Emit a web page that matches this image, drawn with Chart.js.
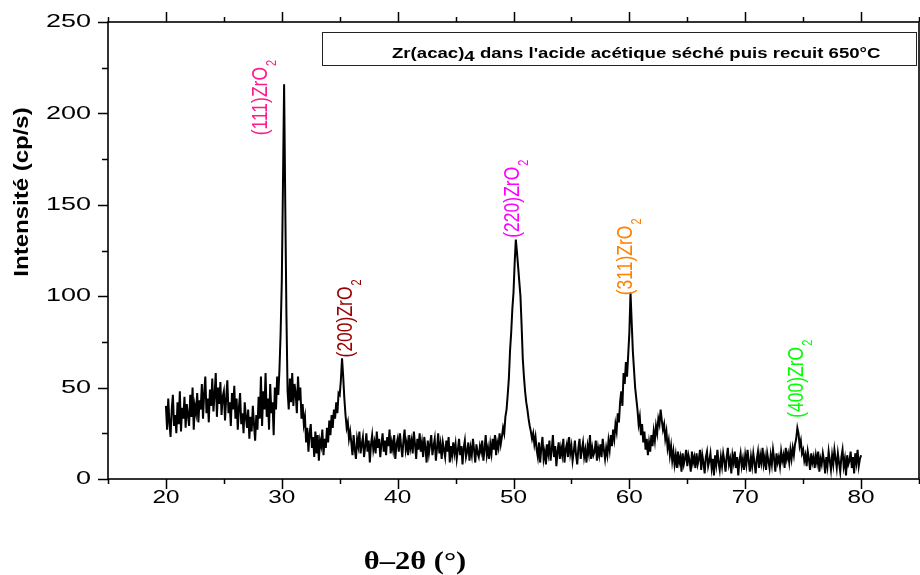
<!DOCTYPE html>
<html>
<head>
<meta charset="utf-8">
<script src="https://cdn.jsdelivr.net/npm/chart.js@4.4.1/dist/chart.umd.min.js"></script>
<style>
  html, body { margin: 0; padding: 0; background: #fff; }
</style>
</head>
<body>
<canvas id="xrd" width="920" height="575"></canvas>
<script>
// Scan settings (2θ, degrees)
const scanStart = 20.0;
const scanStep = 0.1;

// Measured intensity (cp/s), one value per step from 20.0° to 80.0°
const intensity = [
  40, 27, 44, 31, 23, 38, 46, 29, 35, 25,   // 20
  42, 30, 48, 26, 39, 33, 45, 28, 41, 35,   // 21
  29, 46, 34, 50, 27, 40, 36, 47, 31, 43,   // 22
  38, 52, 33, 47, 56, 36, 44, 31, 49, 40,   // 23
  55, 37, 46, 58, 34, 50, 41, 53, 35, 45,   // 24
  48, 32, 44, 54, 36, 42, 29, 47, 38, 51,   // 25
  33, 44, 27, 39, 47, 30, 36, 25, 42, 34,   // 26
  28, 38, 22, 34, 26, 40, 30, 21, 35, 27,   // 27
  45, 33, 56, 29, 48, 38, 58, 34, 44, 27,   // 28
  52, 36, 42, 24, 50, 38, 56, 46, 60, 80,   // 29
  108, 160, 216, 150, 90, 48, 38, 55, 42, 58, // 30
  40, 52, 47, 36, 56, 43, 50, 33, 41, 30,   // 31
  34, 20, 28, 15, 25, 30, 17, 23, 12, 26,   // 32
  14, 24, 10, 21, 18, 27, 13, 22, 17, 28,   // 33
  20, 32, 24, 35, 28, 38, 33, 42, 36, 47,   // 34
  46, 54, 66, 56, 44, 35, 28, 31, 22, 26,   // 35
  20, 13, 24, 16, 11, 22, 18, 26, 14, 19,   // 36
  23, 12, 18, 25, 15, 21, 9, 19, 24, 16,    // 37
  20, 14, 26, 17, 22, 12, 19, 25, 15, 21,   // 38
  13, 23, 18, 27, 14, 20, 16, 24, 11, 19,   // 39
  22, 15, 25, 18, 12, 21, 27, 16, 20, 13,   // 40
  24, 17, 21, 14, 26, 19, 11, 22, 16, 25,   // 41
  15, 20, 12, 23, 17, 9, 21, 14, 19, 24,    // 42
  13, 18, 22, 10, 17, 25, 14, 19, 11, 20,   // 43
  16, 12, 21, 15, 23, 9, 18, 13, 20, 14,    // 44
  19, 11, 16, 22, 13, 18, 8, 17, 21, 12,    // 45
  15, 20, 10, 17, 13, 22, 16, 9, 19, 14,    // 46
  12, 18, 15, 21, 10, 16, 24, 13, 17, 11,   // 47
  19, 14, 22, 16, 24, 13, 20, 17, 25, 19,   // 48
  23, 28, 25, 34, 38, 46, 55, 70, 80, 93,   // 49
  102, 118, 131, 124, 116, 108, 100, 84, 66, 56, // 50
  48, 42, 38, 33, 29, 26, 22, 25, 19, 23,   // 51
  16, 12, 20, 9, 17, 23, 11, 15, 8, 19,     // 52
  14, 21, 10, 16, 24, 12, 18, 7, 15, 20,    // 53
  11, 17, 13, 22, 9, 16, 19, 12, 23, 14,    // 54
  18, 10, 15, 21, 13, 8, 17, 22, 11, 16,    // 55
  20, 12, 16, 9, 18, 14, 24, 11, 17, 13,    // 56
  15, 21, 10, 17, 13, 19, 12, 22, 16, 11,   // 57
  17, 13, 21, 16, 24, 18, 27, 22, 30, 26,   // 58
  36, 31, 42, 48, 40, 58, 52, 64, 56, 68,   // 59
  80, 102, 86, 70, 60, 50, 44, 38, 30, 34,  // 60
  24, 30, 20, 26, 16, 22, 13, 20, 15, 24,   // 61
  18, 26, 21, 29, 25, 33, 30, 38, 32, 27,   // 62
  30, 22, 26, 17, 21, 13, 18, 10, 15, 8,    // 63
  13, 6, 15, 9, 12, 4, 14, 8, 11, 16,       // 64
  7, 13, 10, 4, 15, 9, 12, 6, 14, 8,        // 65
  11, 16, 5, 13, 9, 3, 12, 15, 7, 10,       // 66
  14, 6, 11, 2, 13, 8, 16, 9, 5, 12,        // 67
  7, 14, 10, 4, 12, 17, 8, 11, 3, 13,       // 68
  9, 15, 6, 12, 2, 10, 14, 7, 11, 5,        // 69
  13, 8, 16, 10, 4, 12, 7, 14, 9, 3,        // 70
  11, 15, 6, 13, 9, 17, 8, 12, 5, 14,       // 71
  10, 6, 13, 8, 16, 11, 4, 14, 9, 12,       // 72
  7, 15, 10, 13, 6, 17, 11, 14, 9, 16,      // 73
  11, 17, 13, 19, 22, 28, 25, 18, 21, 14,   // 74
  16, 10, 13, 7, 15, 11, 5, 14, 9, 12,      // 75
  6, 13, 9, 15, 4, 11, 8, 14, 10, 3,        // 76
  12, 7, 15, 10, 5, 13, 8, 16, 11, 6,       // 77
  14, 9, 4, 12, 16, 7, 11, 2, 13, 8,        // 78
  10, 15, 6, 12, 3, 14, 9, 16, 7, 11,       // 79
  13                                        // 80
];

// Axis ranges and tick steps
const xRange = [15, 85];
const yRange = [0, 250];
const xMinorStep = 5, xLabelStep = 10;
const yMinorStep = 25, yLabelStep = 50;

// Indexed reflections of ZrO2
const peakHkl = ['(111)', '(200)', '(220)', '(311)', '(400)'];
const peakPhase = 'ZrO';
const peakSub = '2';

// Where each reflection label starts (2θ, cp/s) and its colour
const labelAnchors = [[28.2, 188], [35.5, 66.5], [49.95, 132], [59.7, 100.5], [74.45, 33.5]];
const labelColors = ['#ff1a8c', '#990000', '#ff00ff', '#ff8000', '#00ff00'];

const legendText = ['Zr(acac)', '4', " dans l'acide acétique séché puis recuit 650°C"];
const xTitle = 'θ–2θ (°)';
const yTitle = 'Intensité (cp/s)';

const points = intensity.map((v, i) => ({ x: +(scanStart + i * scanStep).toFixed(2), y: v }));

const SANS = '"Liberation Sans", Arial, sans-serif';
const SERIF = '"Liberation Serif", "Times New Roman", serif';

function wideText(ctx, text, x, y, sx, align) {
  ctx.save();
  ctx.translate(x, y);
  ctx.scale(sx, 1);
  ctx.textAlign = align;
  ctx.fillText(text, 0, 0);
  ctx.restore();
}

function upText(ctx, text, sub, x, y, sx, font, subFont) {
  ctx.save();
  ctx.translate(x, y);
  ctx.scale(sx, 1);
  ctx.rotate(-Math.PI / 2);
  ctx.textBaseline = 'middle';
  ctx.textAlign = 'left';
  ctx.font = font;
  ctx.fillText(text, 0, 0);
  if (sub) {
    const w = ctx.measureText(text).width;
    ctx.font = subFont;
    ctx.fillText(sub, w + 1, 9);
  }
  ctx.restore();
}

const decorations = {
  id: 'decorations',
  afterDraw(chart) {
    const { ctx, chartArea: a, scales: { x, y } } = chart;
    ctx.save();
    ctx.strokeStyle = '#000';
    ctx.fillStyle = '#000';

    // frame
    ctx.lineWidth = 1.6;
    ctx.strokeRect(a.left, a.top, a.right - a.left, a.bottom - a.top);

    // tick marks
    ctx.lineWidth = 1.5;
    ctx.beginPath();
    x.ticks.forEach(t => {
      const px = Math.round(x.getPixelForValue(t.value)) + 0.5;
      const len = t.value % xLabelStep === 0 ? 10 : 5;
      ctx.moveTo(px, a.bottom); ctx.lineTo(px, a.bottom + len);
      ctx.moveTo(px, a.top); ctx.lineTo(px, a.top - len);
    });
    y.ticks.forEach(t => {
      const py = Math.round(y.getPixelForValue(t.value)) + 0.5;
      const len = t.value % yLabelStep === 0 ? 10 : 6;
      ctx.moveTo(a.left, py); ctx.lineTo(a.left - len, py);
    });
    ctx.stroke();

    // tick labels
    ctx.font = '19px ' + SANS;
    ctx.textBaseline = 'middle';
    x.ticks.forEach(t => {
      if (t.value % xLabelStep !== 0 || t.value < scanStart) return;
      wideText(ctx, String(t.value), x.getPixelForValue(t.value), a.bottom + 19, 1.28, 'center');
    });
    y.ticks.forEach(t => {
      if (t.value % yLabelStep !== 0) return;
      wideText(ctx, String(t.value), a.left - 17, y.getPixelForValue(t.value), 1.42, 'right');
    });

    // axis titles
    ctx.font = 'bold 25px ' + SERIF;
    wideText(ctx, xTitle, 415, 563, 1.22, 'center');
    ctx.save();
    ctx.translate(22, 192);
    ctx.scale(1, 1.2);
    ctx.rotate(-Math.PI / 2);
    ctx.font = 'bold 20px ' + SANS;
    ctx.textAlign = 'center';
    ctx.textBaseline = 'middle';
    ctx.fillText(yTitle, 0, 0);
    ctx.restore();

    // legend box
    ctx.lineWidth = 1;
    ctx.strokeStyle = '#222';
    ctx.strokeRect(322.5, 32.5, 594, 33);
    ctx.save();
    ctx.translate(392, 58);
    ctx.scale(1.24, 1);
    ctx.font = 'bold 15px ' + SANS;
    ctx.textBaseline = 'alphabetic';
    ctx.textAlign = 'left';
    let cx = 0;
    ctx.fillText(legendText[0], cx, 0); cx += ctx.measureText(legendText[0]).width;
    ctx.fillText(legendText[1], cx, 3); cx += ctx.measureText(legendText[1]).width;
    ctx.fillText(legendText[2], cx, 0);
    ctx.restore();

    // reflection labels
    peakHkl.forEach((hkl, i) => {
      ctx.fillStyle = labelColors[i];
      const [lx, ly] = labelAnchors[i];
      upText(ctx, hkl + peakPhase, peakSub, x.getPixelForValue(lx), y.getPixelForValue(ly),
        1.25, '17.5px ' + SANS, '11px ' + SANS);
    });
    ctx.restore();
  }
};

new Chart(document.getElementById('xrd'), {
  type: 'line',
  data: {
    datasets: [{
      data: points,
      borderColor: '#000',
      borderWidth: 2,
      pointRadius: 0,
      tension: 0,
      fill: false
    }]
  },
  options: {
    responsive: false,
    animation: false,
    devicePixelRatio: 1,
    layout: { padding: { top: 22, right: 1, left: 0, bottom: 0 } },
    plugins: { legend: { display: false }, tooltip: { enabled: false } },
    scales: {
      x: {
        type: 'linear', min: xRange[0], max: xRange[1],
        grid: { display: false, drawTicks: false },
        border: { display: false },
        ticks: { display: false, stepSize: xMinorStep, autoSkip: false },
        afterFit(s) { s.height = 96; }
      },
      y: {
        min: yRange[0], max: yRange[1],
        grid: { display: false, drawTicks: false },
        border: { display: false },
        ticks: { display: false, stepSize: yMinorStep, autoSkip: false },
        afterFit(s) { s.width = 108; }
      }
    }
  },
  plugins: [decorations]
});
</script>
</body>
</html>
